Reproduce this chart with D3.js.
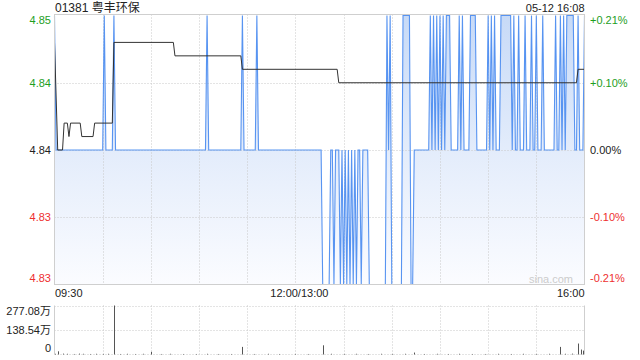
<!DOCTYPE html>
<html><head><meta charset="utf-8">
<script src="https://cdn.jsdelivr.net/npm/d3@7/dist/d3.min.js"></script>
<style>
html,body{margin:0;padding:0;background:#fff;}
svg{display:block;font-family:"Liberation Sans",Arial,"Noto Sans CJK SC",sans-serif;}
</style></head><body>
<svg id="c" width="640" height="360"></svg>
<script>
const title = "01381 粤丰环保";
const stamp = "05-12 16:08";
const prevClose = 4.84;
// price per minute, 09:30 .. 16:00 (331 points)
const price = [
4.85,4.84,4.84,4.84,4.84,4.84,4.84,4.84,4.84,4.84,
4.84,4.84,4.84,4.84,4.84,4.84,4.84,4.84,4.84,4.84,
4.84,4.84,4.84,4.84,4.84,4.84,4.84,4.84,4.84,4.84,
4.84,4.85,4.84,4.84,4.84,4.84,4.84,4.85,4.84,4.84,
4.84,4.84,4.84,4.84,4.84,4.84,4.84,4.84,4.84,4.84,
4.84,4.84,4.84,4.84,4.84,4.84,4.84,4.84,4.84,4.84,
4.84,4.84,4.84,4.84,4.84,4.84,4.84,4.84,4.84,4.84,
4.84,4.84,4.84,4.84,4.84,4.84,4.84,4.84,4.84,4.84,
4.84,4.84,4.84,4.84,4.84,4.84,4.84,4.84,4.84,4.84,
4.84,4.84,4.84,4.84,4.84,4.85,4.84,4.84,4.84,4.84,
4.84,4.84,4.84,4.84,4.84,4.84,4.84,4.84,4.84,4.84,
4.84,4.84,4.84,4.84,4.84,4.84,4.84,4.85,4.84,4.84,
4.84,4.84,4.84,4.84,4.84,4.84,4.85,4.84,4.84,4.84,
4.84,4.84,4.84,4.84,4.84,4.84,4.84,4.84,4.84,4.84,
4.84,4.84,4.84,4.84,4.84,4.84,4.84,4.84,4.84,4.84,
4.84,4.84,4.84,4.84,4.84,4.84,4.84,4.84,4.84,4.84,
4.84,4.84,4.84,4.84,4.84,4.84,4.84,4.83,4.83,4.83,
4.83,4.83,4.84,4.84,4.83,4.84,4.84,4.84,4.83,4.84,
4.83,4.84,4.83,4.84,4.83,4.84,4.83,4.84,4.83,4.84,
4.84,4.83,4.84,4.84,4.84,4.84,4.83,4.83,4.83,4.83,
4.83,4.83,4.83,4.83,4.83,4.83,4.83,4.85,4.84,4.85,
4.83,4.83,4.83,4.83,4.83,4.83,4.83,4.85,4.85,4.85,
4.85,4.85,4.83,4.83,4.84,4.84,4.84,4.84,4.84,4.84,
4.84,4.84,4.84,4.84,4.85,4.84,4.85,4.84,4.85,4.84,
4.85,4.84,4.85,4.84,4.85,4.85,4.85,4.84,4.84,4.84,
4.84,4.84,4.85,4.84,4.85,4.84,4.84,4.84,4.84,4.85,
4.85,4.85,4.85,4.84,4.84,4.84,4.84,4.84,4.84,4.84,
4.85,4.84,4.85,4.84,4.85,4.84,4.84,4.84,4.85,4.85,
4.85,4.85,4.85,4.85,4.85,4.84,4.85,4.84,4.84,4.85,
4.84,4.84,4.84,4.85,4.84,4.84,4.84,4.85,4.84,4.84,
4.85,4.84,4.84,4.84,4.85,4.84,4.84,4.84,4.84,4.84,
4.84,4.84,4.85,4.84,4.84,4.85,4.84,4.85,4.84,4.85,
4.85,4.85,4.85,4.85,4.84,4.84,4.85,4.84,4.84,4.84,
4.85
];
// average price read at its break points (minute, value)
const avgMin = [0,2,5,6,8,9,10,16,17,24,25,36,37,74,75,116,117,176,177,325,326,330];
const avgVal = [4.848,4.840,4.840,4.842,4.842,4.841,4.842,4.842,4.841,4.841,4.842,4.842,4.848,4.848,4.847,4.847,4.846,4.846,4.845,4.845,4.846,4.846];
// volume (万股) at minutes
const volMin = [0,2,5,8,12,15,18,22,26,30,33,37,41,45,50,55,60,66,72,80,88,95,102,110,117,124,133,140,150,158,167,172,180,188,195,203,210,218,224,230,238,245,252,260,268,276,284,292,300,308,315,318,322,326,328,329];
const volVal = [4,18,5,4,3,5,4,3,4,3,4,277.08,3,4,3,4,15,3,4,3,3,4,3,3,43,3,4,3,3,3,52,4,3,4,3,4,3,4,11,3,4,3,4,3,3,4,3,4,3,4,43,4,5,62,28,22];

const yTickValues = [4.85,4.845,4.84,4.835,4.83];
const yTickLabels = ["4.85","4.84","4.84","4.83","4.83"];
const pctLabels = ["+0.21%","+0.10%","0.00%","-0.10%","-0.21%"];
const xTickMin = [0,150,330];
const xTickLabels = ["09:30","12:00/13:00","16:00"];
const gridMinutes = [30,60,90,120,150,180,210,240,270,300];
const volTickValues = [277.08,138.54,0];
const volTickLabels = ["277.08万","138.54万","0"];

const svg = d3.select("#c");
const L = 54.5, R = 584.5, T = 14.5, B = 284.5;
const VT = 305.5, VB = 354.5;

const x = d3.scaleLinear().domain([0,330]).range([L,R]);
const y = d3.scaleLinear().domain([4.83,4.85]).range([B,15.5]);
const yv = d3.scaleLinear().domain([0,277.08]).range([VB,VT]);

const green = "#1e9e1e", red = "#ee2f2f", dark = "#222";
const colorFor = v => v > prevClose + 1e-9 ? green : (v < prevClose - 1e-9 ? red : dark);

// gradient
const defs = svg.append("defs");
const g = defs.append("linearGradient").attr("id","fillg").attr("gradientUnits","userSpaceOnUse")
  .attr("x1",0).attr("y1",T).attr("x2",0).attr("y2",B);
g.append("stop").attr("offset","0").attr("stop-color","#c7daf7");
g.append("stop").attr("offset","0.5").attr("stop-color","#e3ecfb");
g.append("stop").attr("offset","1").attr("stop-color","#fbfcff");

// area fill
const area = d3.area().x((d,i)=>x(i)).y0(B).y1(d=>y(d));
svg.append("path").datum(price).attr("d",area).attr("fill","url(#fillg)");

// grid
const grid = svg.append("g").attr("stroke","#c8c8c8").attr("stroke-dasharray","1,2").attr("stroke-width",1);
yTickValues.slice(1,4).forEach(v=>{
  const yy = Math.round(y(v))+0.5;
  grid.append("line").attr("x1",L).attr("x2",R).attr("y1",yy).attr("y2",yy);
});
gridMinutes.forEach(m=>{
  const xx = Math.round(x(m))+0.5;
  grid.append("line").attr("x1",xx).attr("x2",xx).attr("y1",T).attr("y2",B);
  grid.append("line").attr("x1",xx).attr("x2",xx).attr("y1",VT).attr("y2",VB);
});
volTickValues.forEach(v=>{
  const yy = Math.round(yv(v))-0.5+ (v===0?0:1);
  grid.append("line").attr("x1",L).attr("x2",R).attr("y1",yy).attr("y2",yy);
});

// price line
const line = d3.line().x((d,i)=>x(i)).y(d=>y(d));
svg.append("path").datum(price).attr("d",line).attr("fill","none")
  .attr("stroke","#4f8ef0").attr("stroke-width",1.1).attr("stroke-opacity",0.95);

// average line
const avgPts = avgMin.map((m,i)=>[m,avgVal[i]]);
svg.append("path").datum(avgPts).attr("d",d3.line().x(d=>x(d[0])).y(d=>y(d[1])))
  .attr("fill","none").attr("stroke","#333").attr("stroke-width",1);

// border
svg.append("rect").attr("x",L).attr("y",T).attr("width",R-L).attr("height",B-T)
  .attr("fill","none").attr("stroke","#cfcfcf").attr("stroke-width",1);
svg.append("line").attr("x1",L).attr("x2",L).attr("y1",VT).attr("y2",VB).attr("stroke","#cfcfcf");
svg.append("line").attr("x1",R).attr("x2",R).attr("y1",VT).attr("y2",VB).attr("stroke","#cfcfcf");

// volume bars
svg.append("g").selectAll("line").data(volMin).join("line")
  .attr("x1",(m)=>Math.round(x(m))+0.5).attr("x2",(m)=>Math.round(x(m))+0.5)
  .attr("y1",VB).attr("y2",(m,i)=>yv(volVal[i]))
  .attr("stroke","#555").attr("stroke-width",1);

// labels
const txt = svg.append("g").attr("font-size",11);
yTickValues.forEach((v,i)=>{
  const yy = Math.min(Math.max(y(v),20),278);
  txt.append("text").attr("x",51).attr("y",yy).attr("dy","0.35em").attr("text-anchor","end")
    .attr("fill",colorFor(v)).text(yTickLabels[i]);
  txt.append("text").attr("x",590).attr("y",yy).attr("dy","0.35em").attr("text-anchor","start")
    .attr("fill",colorFor(v)).text(pctLabels[i]);
});
xTickMin.forEach((m,i)=>{
  const anchor = i===0 ? "start" : (i===xTickMin.length-1 ? "end" : "middle");
  const xx = i===0 ? x(m)+0.5 : (i===xTickMin.length-1 ? x(m) : x(m)+4);
  txt.append("text").attr("x",xx).attr("y",293).attr("dy","0.35em").attr("text-anchor",anchor)
    .attr("fill",dark).text(xTickLabels[i]);
});
volTickValues.forEach((v,i)=>{
  const yy = Math.min(Math.max(yv(v),311),348);
  txt.append("text").attr("x",51).attr("y",yy).attr("dy","0.35em").attr("text-anchor","end")
    .attr("fill",dark).text(volTickLabels[i]);
});
svg.append("text").attr("x",55).attr("y",8).attr("dy","0.35em").attr("font-size",12)
  .attr("fill",dark).text(title);
svg.append("text").attr("x",R).attr("y",8).attr("dy","0.35em").attr("font-size",11)
  .attr("text-anchor","end").attr("fill",dark).text(stamp);
svg.append("text").attr("x",573).attr("y",279).attr("dy","0.35em").attr("font-size",11)
  .attr("text-anchor","end").attr("fill","#cccccc").text("sina.com");
</script>
</body></html>
